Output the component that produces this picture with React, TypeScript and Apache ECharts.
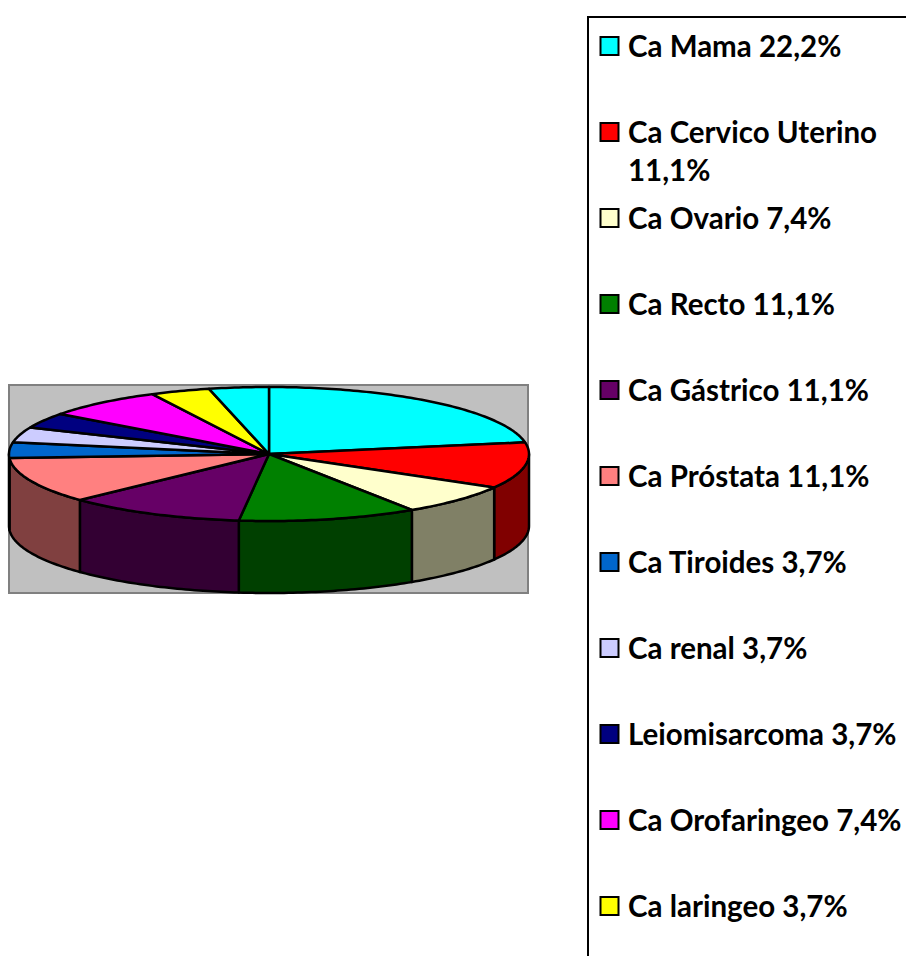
import React, { useEffect, useRef } from "react";
import * as echarts from "echarts";

const sliceValues = [22.2, 11.1, 7.4, 11.1, 11.1, 11.1, 3.7, 3.7, 3.7, 7.4, 3.7, 3.7];
const sliceColors = ["#00FFFF", "#FF0000", "#FFFFCC", "#008000", "#660066", "#FF8080", "#0066CC", "#CCCCFF", "#000080", "#FF00FF", "#FFFF00", "#00FFFF"];
const sideColors = ["#008080", "#800000", "#808066", "#004000", "#330033", "#804040", "#003366", "#666680", "#000040", "#800080", "#808000", "#008080"];
const legendLabels = [
  ["Ca Mama 22,2%"],
  ["Ca Cervico Uterino", "11,1%"],
  ["Ca Ovario 7,4%"],
  ["Ca Recto 11,1%"],
  ["Ca Gástrico 11,1%"],
  ["Ca Próstata 11,1%"],
  ["Ca Tiroides 3,7%"],
  ["Ca renal 3,7%"],
  ["Leiomisarcoma 3,7%"],
  ["Ca Orofaringeo 7,4%"],
  ["Ca laringeo 3,7%"],
];

const PIE_DEPTH = 72 / 67; // thickness, in axis units
const FONT = "Lato";

export default function App() {
  const ref = useRef<HTMLDivElement>(null);
  useEffect(() => {
    const chart = echarts.init(ref.current!, null, { renderer: "svg" });
    const total = sliceValues.reduce((a, b) => a + b, 0);
    let cum = 0;
    const spans = sliceValues.map((v) => {
      const s = cum;
      cum += v;
      return [(s / total) * 360, (cum / total) * 360, v];
    });
    const point = (api: any, deg: number, drop = 0) => {
      const t = (deg * Math.PI) / 180;
      return api.coord([Math.sin(t), Math.cos(t) - drop]);
    };
    const arc = (api: any, a: number, b: number, drop = 0) => {
      const pts: number[][] = [];
      const n = Math.max(2, Math.ceil(b - a));
      for (let i = 0; i <= n; i++) pts.push(point(api, a + ((b - a) * i) / n, drop));
      return pts;
    };
    const graphic: any[] = [
      { type: "rect", z: -10, shape: { x: 9, y: 385, width: 519, height: 208 }, style: { fill: "#C0C0C0", stroke: "#808080", lineWidth: 2 } },
      { type: "polyline", shape: { points: [[588, 956], [588, 17], [906, 17]] }, style: { fill: "none", stroke: "#000000", lineWidth: 2 } },
    ];
    legendLabels.forEach((lines, i) => {
      const y = 46 + 86 * i;
      graphic.push({
        type: "rect",
        shape: { x: 600.5, y: y - 9, width: 18, height: 18 },
        style: { fill: sliceColors[i], stroke: "#000000", lineWidth: 2 },
      });
      lines.forEach((line, j) => {
        graphic.push({
          type: "text",
          x: 628,
          y: y - 1 + j * 38,
          style: { text: line, fill: "#000000", font: `bold 29.5px ${FONT}`, textVerticalAlign: "middle", textAlign: "left" },
        });
      });
    });
    chart.setOption({
      animation: false,
      grid: { left: 9, top: 387, width: 520, height: 134 },
      xAxis: { type: "value", min: -1, max: 1, show: false },
      yAxis: { type: "value", min: -1, max: 1, show: false },
      graphic,
      series: [
        {
          type: "custom",
          name: "side",
          coordinateSystem: "cartesian2d",
          clip: false,
          silent: true,
          data: spans,
          encode: { x: 0, y: 1 },
          z: 2,
          renderItem: (params: any, api: any) => {
            const a = Math.max(api.value(0), 90);
            const b = Math.min(api.value(1), 270);
            if (b <= a) return { type: "group", children: [] };
            const top = arc(api, a, b);
            const bottom = arc(api, a, b, PIE_DEPTH).reverse();
            return {
              type: "polygon",
              shape: { points: top.concat(bottom) },
              style: { fill: sideColors[params.dataIndex], stroke: "#000000", lineWidth: 2.5, lineJoin: "round" },
            };
          },
        },
        {
          type: "custom",
          name: "top",
          coordinateSystem: "cartesian2d",
          clip: false,
          silent: true,
          data: spans,
          encode: { x: 0, y: 1 },
          z: 3,
          renderItem: (params: any, api: any) => {
            const pts = arc(api, api.value(0), api.value(1));
            pts.push(api.coord([0, 0]));
            return {
              type: "polygon",
              shape: { points: pts },
              style: { fill: sliceColors[params.dataIndex], stroke: "#000000", lineWidth: 2.5, lineJoin: "round" },
            };
          },
        },
      ],
    });
    return () => chart.dispose();
  }, []);
  return <div ref={ref} style={{ position: "fixed", left: 0, top: 0, width: 906, height: 956, background: "#ffffff" }} />;
}
